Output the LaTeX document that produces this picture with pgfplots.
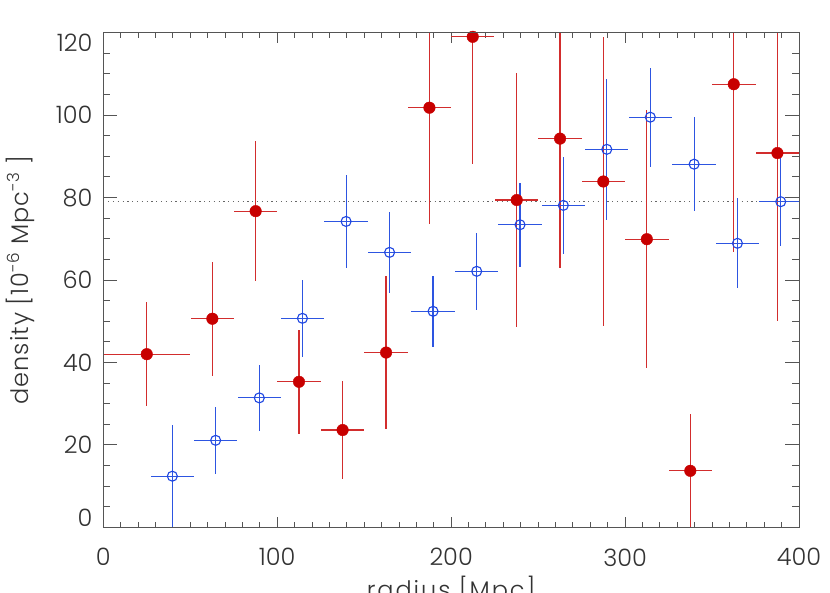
\documentclass[border=0pt]{standalone}
\usepackage{pgfplots}
\pgfplotsset{compat=1.18}
\usepackage{fontspec}
\setmainfont{Poppins Light}
\definecolor{rdot}{RGB}{200,0,0}
\definecolor{rbar}{RGB}{210,45,45}
\definecolor{bdot}{RGB}{30,70,225}
\definecolor{bbar}{RGB}{45,85,225}
\definecolor{axgray}{RGB}{85,85,85}
\definecolor{txt}{RGB}{51,51,51}
\begin{document}
\fontsize{24}{28}\selectfont
\begin{tikzpicture}
\path[use as bounding box] (-103.3pt,-65.7pt) rectangle (726.7pt,527.3pt);
\pgfplotsset{
  common/.style={
    scale only axis, width=695.7pt, height=494.6pt,
    at={(0pt,0pt)}, anchor=south west,
    xmin=0, xmax=400, ymin=0, ymax=120,
    axis line style={draw=axgray, line width=0.9pt},
    tick style={color=axgray, line width=0.9pt},
    tick align=inside,
    /pgf/number format/assume math mode=true,
    tick label style={font=\fontsize{24}{28}\selectfont, text=txt, inner sep=0pt},
  }
}
\begin{axis}[common,
  xtick={0,100,200,300,400},
  minor x tick num=9,
  major tick length=10pt, minor tick length=5pt,
  ytick=\empty,
  xticklabel shift=21pt,
  xlabel={\addfontfeatures{LetterSpace=8}radius [Mpc]},
  xlabel style={at={(axis description cs:0.5,0)}, anchor=north, yshift=-49pt, inner sep=0pt, text=txt, font=\fontsize{24}{28}\selectfont},
]
\addplot[color=black!60, line width=0.9pt, dash pattern=on 1.2pt off 3.6pt] coordinates {(0,79.0) (400,79.0)};
% red: x y ex ey
\addplot[only marks, mark=*, mark size=5.8pt, color=rdot,
  error bars/.cd, x dir=both, x explicit, y dir=both, y explicit,
  error mark=none, error bar style={color=rbar, line width=1.3pt}]
coordinates {
 (25.0,42.0) +- (25.0,12.6)
 (62.7,50.6) +- (12.4,13.8)
 (87.6,76.7) +- (12.5,17.0)
 (112.5,35.3) +- (12.5,12.6)
 (137.6,23.6) +- (12.5,11.9)
 (162.6,42.4) +- (12.5,18.6)
 (187.5,101.8) +- (12.5,28.2)
 (212.4,119.0) +- (12.5,30.9)
 (237.7,79.4) +- (12.5,30.8)
 (262.6,94.3) +- (12.5,31.5)
 (287.5,83.9) +- (12.5,35.1)
 (312.5,69.9) +- (12.5,31.25)
 (337.5,13.7) +- (12.5,13.7)
 (362.5,107.5) +- (12.5,40.6)
 (387.6,90.8) +- (12.5,40.7)
};
% blue
\addplot[only marks, mark=o, mark size=5pt, color=bdot, mark options={line width=1.1pt},
  error bars/.cd, x dir=both, x explicit, y dir=both, y explicit,
  error mark=none, error bar style={color=bbar, line width=1.2pt}]
coordinates {
 (39.7,12.4) +- (12.45,12.4)
 (64.6,21.1) +- (12.45,8.05)
 (89.7,31.4) +- (12.45,8.0)
 (114.5,50.7) +- (12.45,9.3)
 (139.6,74.2) +- (12.45,11.25)
 (164.6,66.7) +- (12.45,9.75)
 (189.6,52.4) +- (12.45,8.6)
 (214.7,62.1) +- (12.45,9.4)
 (239.6,73.4) +- (12.45,10.25)
 (264.5,78.1) +- (12.45,11.85)
 (289.5,91.7) +- (12.45,17.1)
 (314.5,99.5) +- (12.45,12.0)
 (339.7,88.1) +- (12.45,11.4)
 (364.6,68.9) +- (12.45,10.9)
 (389.5,79.0) +- (12.45,10.85)
};
\end{axis}
\begin{axis}[common,
  xtick=\empty,
  ytick={0,20,40,60,80,100,120},
  yticklabels={{},20,40,60,80,100,{}},
  minor y tick num=3,
  major tick length=14pt, minor tick length=7pt,
  extra y ticks={2.25,117.6},
  extra y tick labels={0,120},
  extra y tick style={major tick length=0pt, tick style={draw=none}},
  yticklabel shift=10.6pt,
  ylabel={\addfontfeatures{LetterSpace=4}density [10\textsuperscript{-6} Mpc\textsuperscript{-3} ]},
  ylabel style={at={(axis description cs:-0.0977,0.5)}, rotate=0, anchor=south, inner sep=0pt, text=txt, font=\fontsize{24}{28}\selectfont},
]
\end{axis}
\end{tikzpicture}
\end{document}
